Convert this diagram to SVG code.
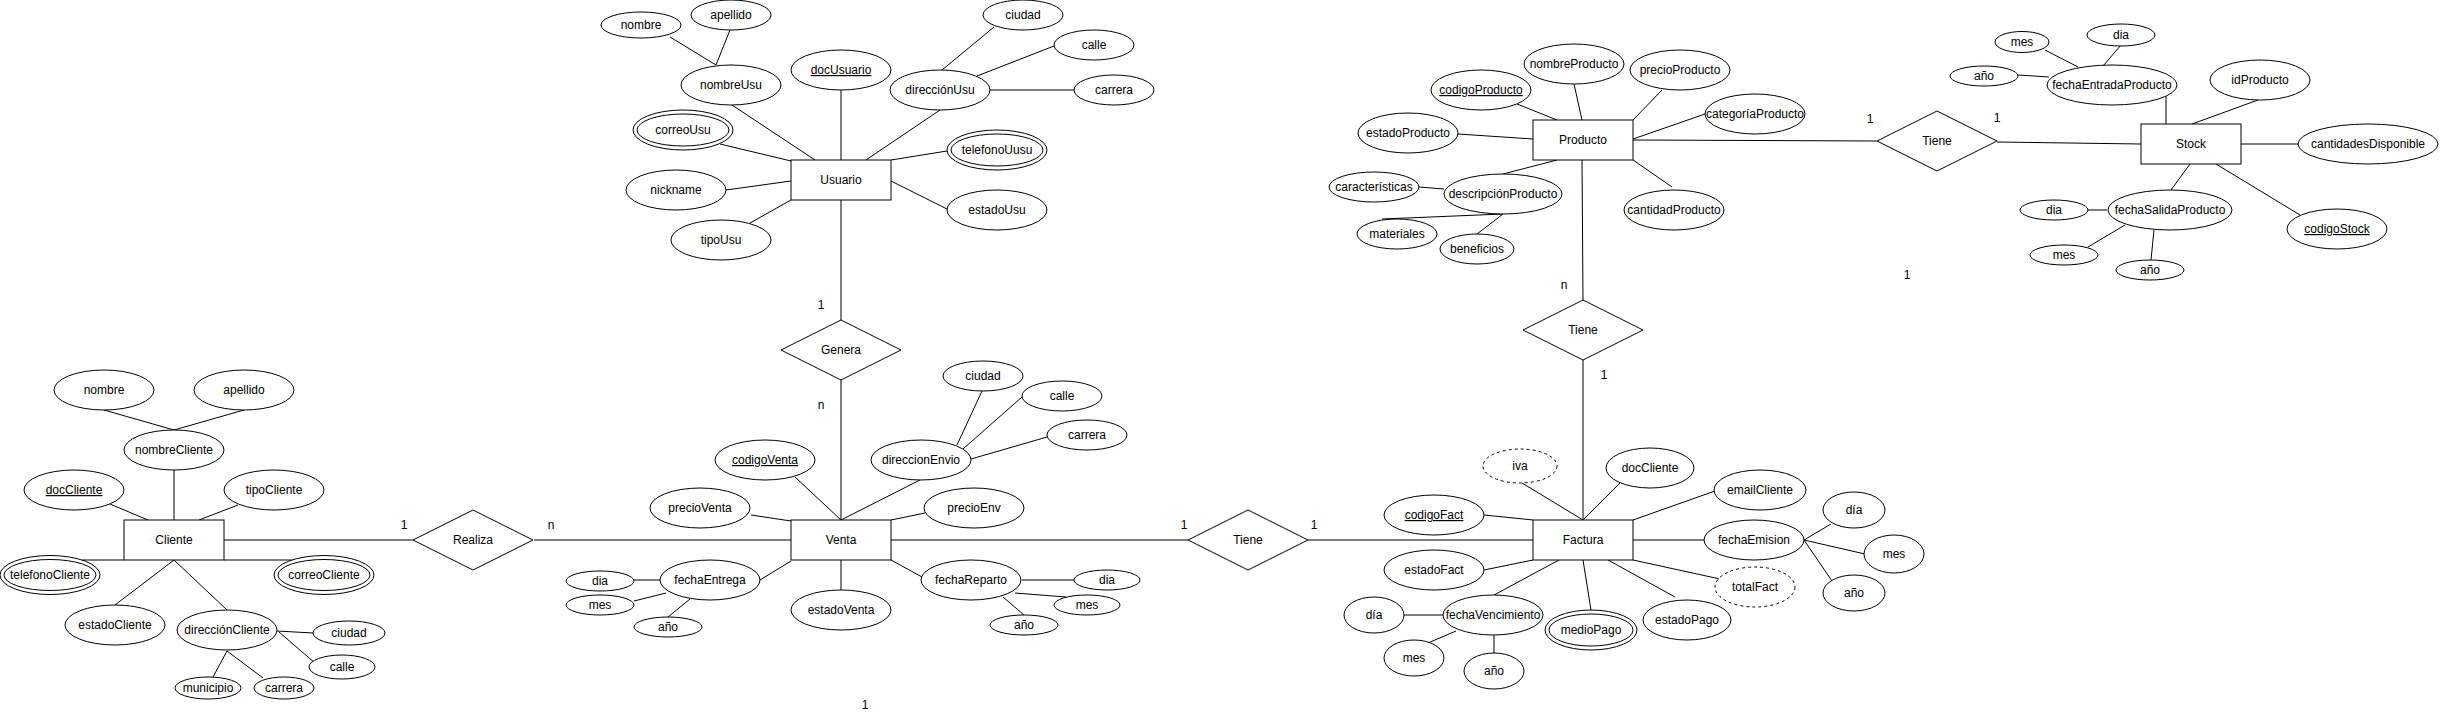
<svg xmlns="http://www.w3.org/2000/svg" width="2441" height="720" viewBox="0 0 2441 720">
<style>
.bg{fill:#fff}
.e{fill:#fff;stroke:#000;stroke-width:1}
.d{fill:#fff;stroke:#000;stroke-width:1;stroke-dasharray:3 3}
.t{font-family:"Liberation Sans",Arial,Helvetica,sans-serif;font-size:12px;text-anchor:middle;fill:#000}
.u{text-decoration:underline}
.c line{stroke:#000;stroke-width:1}
</style>
<rect class="bg" x="0" y="0" width="2441" height="720"/>
<g id="connectors" class="c">
<!-- Usuario -->
<line x1="670" y1="37" x2="716" y2="65"/>
<line x1="730" y1="30" x2="716" y2="65"/>
<line x1="732" y1="105" x2="815" y2="160"/>
<line x1="841" y1="90" x2="841" y2="160"/>
<line x1="940" y1="110" x2="866" y2="160"/>
<line x1="994" y1="27" x2="942" y2="70"/>
<line x1="1054" y1="46" x2="977" y2="76"/>
<line x1="1074" y1="90" x2="990" y2="90"/>
<line x1="720" y1="144" x2="791" y2="161"/>
<line x1="947" y1="151" x2="891" y2="160"/>
<line x1="726" y1="190" x2="791" y2="181"/>
<line x1="750" y1="223" x2="791" y2="200"/>
<line x1="947" y1="209" x2="891" y2="181"/>
<line x1="841" y1="200" x2="841" y2="320"/>
<line x1="841" y1="380" x2="841" y2="520"/>
<!-- Venta -->
<line x1="795" y1="477" x2="841" y2="520"/>
<line x1="920" y1="480" x2="841" y2="520"/>
<line x1="982" y1="391" x2="957" y2="445"/>
<line x1="1022" y1="397" x2="963" y2="449"/>
<line x1="1047" y1="437" x2="971" y2="459"/>
<line x1="751" y1="515" x2="791" y2="521"/>
<line x1="925" y1="513" x2="891" y2="520"/>
<line x1="760" y1="580" x2="791" y2="561"/>
<line x1="841" y1="560" x2="841" y2="590"/>
<line x1="922" y1="577" x2="891" y2="560"/>
<line x1="634" y1="580" x2="661" y2="580"/>
<line x1="634" y1="601" x2="666" y2="593"/>
<line x1="668" y1="617" x2="690" y2="599"/>
<line x1="1022" y1="580" x2="1074" y2="580"/>
<line x1="1015" y1="593" x2="1066" y2="597"/>
<line x1="1003" y1="597" x2="1024" y2="615"/>
<line x1="534" y1="540" x2="791" y2="540"/>
<line x1="891" y1="540" x2="1188" y2="540"/>
<!-- Cliente -->
<line x1="104" y1="410" x2="174" y2="430"/>
<line x1="244" y1="410" x2="174" y2="430"/>
<line x1="174" y1="470" x2="174" y2="520"/>
<line x1="110" y1="504" x2="148" y2="520"/>
<line x1="238" y1="505" x2="199" y2="520"/>
<line x1="82" y1="560" x2="124" y2="560"/>
<line x1="224" y1="560" x2="292" y2="560"/>
<line x1="115" y1="605" x2="174" y2="560"/>
<line x1="227" y1="610" x2="174" y2="560"/>
<line x1="277" y1="631" x2="313" y2="633"/>
<line x1="279" y1="632" x2="315" y2="663"/>
<line x1="227" y1="651" x2="213" y2="677"/>
<line x1="227" y1="651" x2="263" y2="678"/>
<line x1="224" y1="540" x2="413" y2="540"/>
<!-- Tiene / Factura -->
<line x1="1308" y1="540" x2="1533" y2="540"/>
<line x1="1522" y1="483" x2="1583" y2="520"/>
<line x1="1620" y1="483" x2="1583" y2="520"/>
<line x1="1715" y1="491" x2="1633" y2="520"/>
<line x1="1484" y1="515" x2="1533" y2="520"/>
<line x1="1633" y1="540" x2="1704" y2="540"/>
<line x1="1804" y1="540" x2="1831" y2="524"/>
<line x1="1804" y1="540" x2="1865" y2="554"/>
<line x1="1804" y1="540" x2="1832" y2="581"/>
<line x1="1484" y1="570" x2="1533" y2="560"/>
<line x1="1633" y1="560" x2="1720" y2="579"/>
<line x1="1608" y1="560" x2="1675" y2="597"/>
<line x1="1583" y1="560" x2="1591" y2="610"/>
<line x1="1559" y1="560" x2="1494" y2="595"/>
<line x1="1443" y1="615" x2="1404" y2="615"/>
<line x1="1456" y1="631" x2="1428" y2="643"/>
<line x1="1494" y1="635" x2="1494" y2="653"/>
<line x1="1583" y1="360" x2="1583" y2="520"/>
<!-- Producto -->
<line x1="1517" y1="104" x2="1557" y2="120"/>
<line x1="1574" y1="84" x2="1582" y2="120"/>
<line x1="1662" y1="90" x2="1633" y2="120"/>
<line x1="1705" y1="114" x2="1633" y2="139"/>
<line x1="1458" y1="134" x2="1533" y2="139"/>
<line x1="1503" y1="174" x2="1557" y2="160"/>
<line x1="1419" y1="187" x2="1444" y2="189"/>
<line x1="1382" y1="219" x2="1503" y2="214"/>
<line x1="1477" y1="234" x2="1503" y2="214"/>
<line x1="1633" y1="160" x2="1672" y2="187"/>
<line x1="1582" y1="160" x2="1583" y2="300"/>
<line x1="1633" y1="140" x2="1877" y2="141"/>
<!-- Stock -->
<line x1="1997" y1="142" x2="2141" y2="144"/>
<line x1="2045" y1="50" x2="2078" y2="67"/>
<line x1="2121" y1="45" x2="2103" y2="66"/>
<line x1="2018" y1="75" x2="2049" y2="77"/>
<line x1="2166" y1="96" x2="2166" y2="124"/>
<line x1="2258" y1="100" x2="2192" y2="124"/>
<line x1="2241" y1="144" x2="2298" y2="144"/>
<line x1="2190" y1="164" x2="2171" y2="190"/>
<line x1="2216" y1="164" x2="2300" y2="215"/>
<line x1="2107" y1="210" x2="2088" y2="210"/>
<line x1="2125" y1="225" x2="2088" y2="247"/>
<line x1="2154" y1="230" x2="2151" y2="260"/>
</g>
<g id="labels" class="t">
<text x="821" y="309">1</text>
<text x="821" y="409">n</text>
<text x="404" y="529">1</text>
<text x="551" y="529">n</text>
<text x="1184" y="529">1</text>
<text x="1314" y="529">1</text>
<text x="1564" y="289">n</text>
<text x="1604" y="379">1</text>
<text x="1870" y="123">1</text>
<text x="1997" y="122">1</text>
<text x="1907" y="279">1</text>
<text x="865" y="709">1</text>
</g>
<!-- Usuario -->
<g id="usuario"><rect class="e" x="791" y="160" width="100" height="40"/><text class="t" x="841" y="184">Usuario</text></g>
<g id="usu-nombre"><ellipse class="e" cx="641" cy="25" rx="40" ry="13"/><text class="t" x="641" y="29">nombre</text></g>
<g id="usu-apellido"><ellipse class="e" cx="731" cy="15" rx="40" ry="15"/><text class="t" x="731" y="19">apellido</text></g>
<g id="usu-nombreUsu"><ellipse class="e" cx="731" cy="85" rx="50" ry="20"/><text class="t" x="731" y="89">nombreUsu</text></g>
<g id="usu-docUsuario"><ellipse class="e" cx="841" cy="70" rx="50" ry="20"/><text class="t u" x="841" y="74">docUsuario</text></g>
<g id="usu-direccion"><ellipse class="e" cx="940" cy="90" rx="50" ry="20"/><text class="t" x="940" y="94">direcciónUsu</text></g>
<g id="usu-ciudad"><ellipse class="e" cx="1023" cy="15" rx="40" ry="15"/><text class="t" x="1023" y="19">ciudad</text></g>
<g id="usu-calle"><ellipse class="e" cx="1094" cy="45" rx="40" ry="15"/><text class="t" x="1094" y="49">calle</text></g>
<g id="usu-carrera"><ellipse class="e" cx="1114" cy="90" rx="40" ry="15"/><text class="t" x="1114" y="94">carrera</text></g>
<g id="usu-correo"><ellipse class="e" cx="683" cy="130" rx="50" ry="20"/><ellipse class="e" cx="683" cy="130" rx="46" ry="16"/><text class="t" x="683" y="134">correoUsu</text></g>
<g id="usu-telefono"><ellipse class="e" cx="997" cy="150" rx="50" ry="20"/><ellipse class="e" cx="997" cy="150" rx="46" ry="16"/><text class="t" x="997" y="154">telefonoUusu</text></g>
<g id="usu-nickname"><ellipse class="e" cx="676" cy="190" rx="50" ry="20"/><text class="t" x="676" y="194">nickname</text></g>
<g id="usu-tipo"><ellipse class="e" cx="721" cy="240" rx="50" ry="20"/><text class="t" x="721" y="244">tipoUsu</text></g>
<g id="usu-estado"><ellipse class="e" cx="997" cy="210" rx="50" ry="20"/><text class="t" x="997" y="214">estadoUsu</text></g>
<g id="genera"><polygon class="e" points="781,350 841,320 901,350 841,380"/><text class="t" x="841" y="354">Genera</text></g>
<!-- Venta -->
<g id="venta"><rect class="e" x="791" y="520" width="100" height="40"/><text class="t" x="841" y="544">Venta</text></g>
<g id="ven-codigo"><ellipse class="e" cx="765" cy="460" rx="50" ry="20"/><text class="t u" x="765" y="464">codigoVenta</text></g>
<g id="ven-direccion"><ellipse class="e" cx="921" cy="460" rx="50" ry="20"/><text class="t" x="921" y="464">direccionEnvio</text></g>
<g id="ven-ciudad"><ellipse class="e" cx="983" cy="376" rx="40" ry="15"/><text class="t" x="983" y="380">ciudad</text></g>
<g id="ven-calle"><ellipse class="e" cx="1062" cy="396" rx="40" ry="15"/><text class="t" x="1062" y="400">calle</text></g>
<g id="ven-carrera"><ellipse class="e" cx="1087" cy="435" rx="40" ry="15"/><text class="t" x="1087" y="439">carrera</text></g>
<g id="ven-precioVenta"><ellipse class="e" cx="700" cy="508" rx="50" ry="20"/><text class="t" x="700" y="512">precioVenta</text></g>
<g id="ven-precioEnv"><ellipse class="e" cx="974" cy="508" rx="50" ry="20"/><text class="t" x="974" y="512">precioEnv</text></g>
<g id="ven-fechaEntrega"><ellipse class="e" cx="710" cy="580" rx="50" ry="20"/><text class="t" x="710" y="584">fechaEntrega</text></g>
<g id="ven-fe-dia"><ellipse class="e" cx="600" cy="581" rx="34" ry="10"/><text class="t" x="600" y="585">dia</text></g>
<g id="ven-fe-mes"><ellipse class="e" cx="600" cy="605" rx="34" ry="10"/><text class="t" x="600" y="609">mes</text></g>
<g id="ven-fe-anio"><ellipse class="e" cx="668" cy="627" rx="34" ry="10"/><text class="t" x="668" y="631">año</text></g>
<g id="ven-estado"><ellipse class="e" cx="841" cy="610" rx="50" ry="20"/><text class="t" x="841" y="614">estadoVenta</text></g>
<g id="ven-fechaReparto"><ellipse class="e" cx="971" cy="580" rx="50" ry="20"/><text class="t" x="971" y="584">fechaReparto</text></g>
<g id="ven-fr-dia"><ellipse class="e" cx="1107" cy="580" rx="33" ry="10"/><text class="t" x="1107" y="584">dia</text></g>
<g id="ven-fr-mes"><ellipse class="e" cx="1087" cy="605" rx="33" ry="10"/><text class="t" x="1087" y="609">mes</text></g>
<g id="ven-fr-anio"><ellipse class="e" cx="1024" cy="625" rx="34" ry="10"/><text class="t" x="1024" y="629">año</text></g>
<g id="realiza"><polygon class="e" points="413,540 473,510 533,540 473,570"/><text class="t" x="473" y="544">Realiza</text></g>
<g id="tiene-venta-factura"><polygon class="e" points="1188,540 1248,510 1308,540 1248,570"/><text class="t" x="1248" y="544">Tiene</text></g>
<!-- Cliente -->
<g id="cliente"><rect class="e" x="124" y="520" width="100" height="40"/><text class="t" x="174" y="544">Cliente</text></g>
<g id="cli-nombre"><ellipse class="e" cx="104" cy="390" rx="50" ry="20"/><text class="t" x="104" y="394">nombre</text></g>
<g id="cli-apellido"><ellipse class="e" cx="244" cy="390" rx="50" ry="20"/><text class="t" x="244" y="394">apellido</text></g>
<g id="cli-nombreCliente"><ellipse class="e" cx="174" cy="450" rx="50" ry="20"/><text class="t" x="174" y="454">nombreCliente</text></g>
<g id="cli-doc"><ellipse class="e" cx="74" cy="490" rx="50" ry="20"/><text class="t u" x="74" y="494">docCliente</text></g>
<g id="cli-tipo"><ellipse class="e" cx="274" cy="490" rx="50" ry="20"/><text class="t" x="274" y="494">tipoCliente</text></g>
<g id="cli-telefono"><ellipse class="e" cx="50" cy="575" rx="50" ry="19.5"/><ellipse class="e" cx="50" cy="575" rx="46" ry="15.5"/><text class="t" x="50" y="579">telefonoCliente</text></g>
<g id="cli-correo"><ellipse class="e" cx="324" cy="575" rx="50" ry="19.5"/><ellipse class="e" cx="324" cy="575" rx="46" ry="15.5"/><text class="t" x="324" y="579">correoCliente</text></g>
<g id="cli-estado"><ellipse class="e" cx="115" cy="625" rx="50" ry="20"/><text class="t" x="115" y="629">estadoCliente</text></g>
<g id="cli-direccion"><ellipse class="e" cx="227" cy="630" rx="50" ry="20"/><text class="t" x="227" y="634">direcciónCliente</text></g>
<g id="cli-ciudad"><ellipse class="e" cx="349" cy="633" rx="36" ry="12"/><text class="t" x="349" y="637">ciudad</text></g>
<g id="cli-calle"><ellipse class="e" cx="342" cy="667" rx="33" ry="12"/><text class="t" x="342" y="671">calle</text></g>
<g id="cli-municipio"><ellipse class="e" cx="208" cy="688" rx="33" ry="11"/><text class="t" x="208" y="692">municipio</text></g>
<g id="cli-carrera"><ellipse class="e" cx="284" cy="688" rx="30" ry="11"/><text class="t" x="284" y="692">carrera</text></g>
<!-- Factura -->
<g id="factura"><rect class="e" x="1533" y="520" width="100" height="40"/><text class="t" x="1583" y="544">Factura</text></g>
<g id="fac-iva"><ellipse class="d" cx="1520" cy="466" rx="37" ry="17"/><text class="t" x="1520" y="470">iva</text></g>
<g id="fac-docCliente"><ellipse class="e" cx="1650" cy="468" rx="44" ry="20"/><text class="t" x="1650" y="472">docCliente</text></g>
<g id="fac-email"><ellipse class="e" cx="1760" cy="490" rx="46" ry="20"/><text class="t" x="1760" y="494">emailCliente</text></g>
<g id="fac-codigo"><ellipse class="e" cx="1434" cy="515" rx="50" ry="20"/><text class="t u" x="1434" y="519">codigoFact</text></g>
<g id="fac-fechaEmision"><ellipse class="e" cx="1754" cy="540" rx="50" ry="20"/><text class="t" x="1754" y="544">fechaEmision</text></g>
<g id="fac-fe-dia"><ellipse class="e" cx="1854" cy="510" rx="31" ry="18"/><text class="t" x="1854" y="514">día</text></g>
<g id="fac-fe-mes"><ellipse class="e" cx="1894" cy="554" rx="30" ry="19"/><text class="t" x="1894" y="558">mes</text></g>
<g id="fac-fe-anio"><ellipse class="e" cx="1854" cy="593" rx="31" ry="18"/><text class="t" x="1854" y="597">año</text></g>
<g id="fac-estado"><ellipse class="e" cx="1434" cy="570" rx="50" ry="20"/><text class="t" x="1434" y="574">estadoFact</text></g>
<g id="fac-total"><ellipse class="d" cx="1755" cy="587" rx="40" ry="20"/><text class="t" x="1755" y="591">totalFact</text></g>
<g id="fac-fechaVenc"><ellipse class="e" cx="1493" cy="615" rx="50" ry="20"/><text class="t" x="1493" y="619">fechaVencimiento</text></g>
<g id="fac-fv-dia"><ellipse class="e" cx="1374" cy="615" rx="30" ry="18"/><text class="t" x="1374" y="619">día</text></g>
<g id="fac-fv-mes"><ellipse class="e" cx="1414" cy="658" rx="30" ry="18"/><text class="t" x="1414" y="662">mes</text></g>
<g id="fac-fv-anio"><ellipse class="e" cx="1494" cy="671" rx="30" ry="18"/><text class="t" x="1494" y="675">año</text></g>
<g id="fac-medioPago"><ellipse class="e" cx="1591" cy="630" rx="46" ry="20"/><ellipse class="e" cx="1591" cy="630" rx="42" ry="16"/><text class="t" x="1591" y="634">medioPago</text></g>
<g id="fac-estadoPago"><ellipse class="e" cx="1687" cy="620" rx="44" ry="20"/><text class="t" x="1687" y="624">estadoPago</text></g>
<g id="tiene-producto-factura"><polygon class="e" points="1523,330 1583,300 1643,330 1583,360"/><text class="t" x="1583" y="334">Tiene</text></g>
<!-- Producto -->
<g id="producto"><rect class="e" x="1533" y="120" width="100" height="40"/><text class="t" x="1583" y="144">Producto</text></g>
<g id="pro-codigo"><ellipse class="e" cx="1481" cy="90" rx="50" ry="20"/><text class="t u" x="1481" y="94">codigoProducto</text></g>
<g id="pro-nombre"><ellipse class="e" cx="1574" cy="64" rx="50" ry="20"/><text class="t" x="1574" y="68">nombreProducto</text></g>
<g id="pro-precio"><ellipse class="e" cx="1680" cy="70" rx="50" ry="20"/><text class="t" x="1680" y="74">precioProducto</text></g>
<g id="pro-categoria"><ellipse class="e" cx="1755" cy="114" rx="50" ry="20"/><text class="t" x="1755" y="118">categoríaProducto</text></g>
<g id="pro-estado"><ellipse class="e" cx="1408" cy="133" rx="50" ry="20"/><text class="t" x="1408" y="137">estadoProducto</text></g>
<g id="pro-descripcion"><ellipse class="e" cx="1503" cy="194" rx="59" ry="20"/><text class="t" x="1503" y="198">descripciónProducto</text></g>
<g id="pro-caracteristicas"><ellipse class="e" cx="1374" cy="187" rx="45" ry="15"/><text class="t" x="1374" y="191">características</text></g>
<g id="pro-materiales"><ellipse class="e" cx="1397" cy="234" rx="40" ry="15"/><text class="t" x="1397" y="238">materiales</text></g>
<g id="pro-beneficios"><ellipse class="e" cx="1477" cy="249" rx="37" ry="15"/><text class="t" x="1477" y="253">beneficios</text></g>
<g id="pro-cantidad"><ellipse class="e" cx="1674" cy="210" rx="50" ry="20"/><text class="t" x="1674" y="214">cantidadProducto</text></g>
<g id="tiene-producto-stock"><polygon class="e" points="1877,141 1937,111 1997,141 1937,171"/><text class="t" x="1937" y="145">Tiene</text></g>
<!-- Stock -->
<g id="stock"><rect class="e" x="2141" y="124" width="100" height="40"/><text class="t" x="2191" y="148">Stock</text></g>
<g id="sto-fechaEntrada"><ellipse class="e" cx="2112" cy="85" rx="65" ry="20"/><text class="t" x="2112" y="89">fechaEntradaProducto</text></g>
<g id="sto-fe-mes"><ellipse class="e" cx="2022" cy="42" rx="27" ry="10.5"/><text class="t" x="2022" y="46">mes</text></g>
<g id="sto-fe-dia"><ellipse class="e" cx="2121" cy="35" rx="34" ry="11"/><text class="t" x="2121" y="39">dia</text></g>
<g id="sto-fe-anio"><ellipse class="e" cx="1984" cy="76" rx="34" ry="10"/><text class="t" x="1984" y="80">año</text></g>
<g id="sto-idProducto"><ellipse class="e" cx="2260" cy="80" rx="50" ry="20"/><text class="t" x="2260" y="84">idProducto</text></g>
<g id="sto-cantidades"><ellipse class="e" cx="2368" cy="144" rx="70" ry="20"/><text class="t" x="2368" y="148">cantidadesDisponible</text></g>
<g id="sto-fechaSalida"><ellipse class="e" cx="2170" cy="210" rx="62" ry="20"/><text class="t" x="2170" y="214">fechaSalidaProducto</text></g>
<g id="sto-fs-dia"><ellipse class="e" cx="2054" cy="210" rx="34" ry="10"/><text class="t" x="2054" y="214">dia</text></g>
<g id="sto-fs-mes"><ellipse class="e" cx="2064" cy="255" rx="34" ry="10"/><text class="t" x="2064" y="259">mes</text></g>
<g id="sto-fs-anio"><ellipse class="e" cx="2150" cy="270" rx="34" ry="10"/><text class="t" x="2150" y="274">año</text></g>
<g id="sto-codigo"><ellipse class="e" cx="2337" cy="229" rx="50" ry="20"/><text class="t u" x="2337" y="233">codigoStock</text></g>
</svg>
